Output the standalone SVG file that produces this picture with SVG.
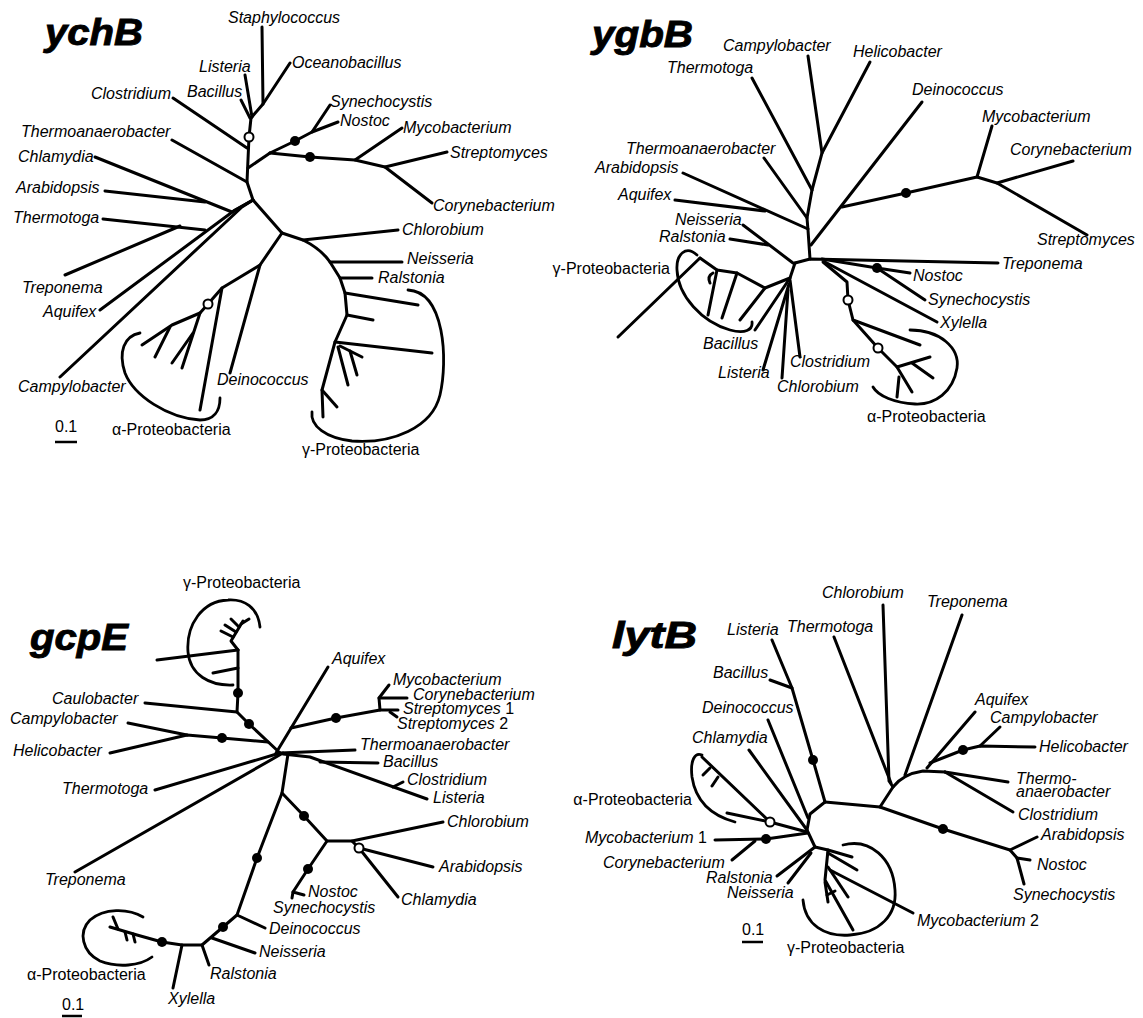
<svg xmlns="http://www.w3.org/2000/svg" width="1143" height="1018" viewBox="0 0 1143 1018">
<style>
.br{fill:none;stroke:#000;stroke-width:3;stroke-linecap:round;stroke-linejoin:round}
.bk{fill:none;stroke:#000;stroke-width:2.8;stroke-linecap:round}
.sc{fill:none;stroke:#000;stroke-width:2.5}
.f{fill:#000}
.o{fill:#fff;stroke:#000;stroke-width:2}
text{font-family:"Liberation Sans",Arial,Helvetica,sans-serif;font-size:16px;fill:#000}
.sp{font-style:italic}
.tt{font-weight:bold;font-style:italic;font-size:36px;stroke:#000;stroke-width:0.9}
</style>
<rect width="1143" height="1018" fill="#fff"/>

<!-- ===== ychB ===== -->
<g id="panel-ychB">
<text id="ychB-title" class="tt" x="45" y="45" textLength="98" lengthAdjust="spacingAndGlyphs">ychB</text>
<g id="ychB-connectors" class="br">
<path d="M262 27 L263 104"/>
<path d="M290 63 L263 104 L251 118"/>
<path d="M245 75 L252 117"/>
<path d="M241 100 L250 118"/>
<path d="M251 118 L249 137 L247 182"/>
<path d="M173 98 L247 148"/>
<path d="M248 168 L270 153"/>
<path d="M270 153 L295 141 L312 132 L330 105"/>
<path d="M312 132 L338 122"/>
<path d="M270 153 L310 157 L355 160 L385 167 L432 203"/>
<path d="M355 160 L402 128"/>
<path d="M385 167 L447 152"/>
<path d="M172 140 L247 182 L253 200 L282 233"/>
<path d="M95 157 L232 212 L253 200"/>
<path d="M105 191 L205 202"/>
<path d="M103 219 L205 230"/>
<path d="M65 275 L180 226"/>
<path d="M100 310 L235 210 L253 200"/>
<path d="M60 377 L242 207 L253 200"/>
<path d="M282 233 L303 240 L398 230"/>
<path d="M303 240 Q321 249 330 262 L340 278 L345 293 L347 315 L335 342 L322 390 L323 417"/>
<path d="M330 262 L402 262"/>
<path d="M340 278 L372 278"/>
<path d="M345 293 L418 305"/>
<path d="M347 315 L373 320"/>
<path d="M335 342 L432 353"/>
<path d="M340 346 L362 357"/>
<path d="M350 351 L357 375"/>
<path d="M338 347 L348 385"/>
<path d="M322 390 L337 407"/>
<path d="M282 233 L260 265 L230 373"/>
<path d="M260 265 L222 288 L200 410"/>
<path d="M222 288 L208 304 L200 313 L182 368"/>
<path d="M193 333 L172 363"/>
<path d="M200 313 L172 325 L142 345"/>
<path d="M170 327 L155 357"/>
</g>
<g id="ychB-brackets" class="bk">
<path d="M408 290 C445 292 448 360 440 395 C432 428 392 444 352 441 C326 438 310 426 312 412"/>
<path d="M140 333 C124 336 118 352 125 373 C134 396 168 418 200 420 C214 420 220 411 220 398"/>
</g>
<g id="ychB-support">
<circle class="o" cx="249" cy="137" r="4.5"/>
<circle class="o" cx="208" cy="304" r="4.5"/>
<circle class="f" cx="295" cy="141" r="5"/>
<circle class="f" cx="310" cy="157" r="5"/>
</g>
<g id="ychB-labels" class="sp">
<text x="228" y="23">Staphylococcus</text>
<text x="292" y="68">Oceanobacillus</text>
<text x="199" y="72">Listeria</text>
<text x="187" y="97">Bacillus</text>
<text x="91" y="99">Clostridium</text>
<text x="21" y="137">Thermoanaerobacter</text>
<text x="18" y="162">Chlamydia</text>
<text x="16" y="193">Arabidopsis</text>
<text x="13" y="223">Thermotoga</text>
<text x="22" y="293">Treponema</text>
<text x="43" y="317">Aquifex</text>
<text x="18" y="392">Campylobacter</text>
<text x="217" y="385">Deinococcus</text>
<text x="330" y="107">Synechocystis</text>
<text x="340" y="126">Nostoc</text>
<text x="403" y="133">Mycobacterium</text>
<text x="450" y="158">Streptomyces</text>
<text x="433" y="211">Corynebacterium</text>
<text x="402" y="235">Chlorobium</text>
<text x="407" y="264">Neisseria</text>
<text x="378" y="283">Ralstonia</text>
</g>
<text id="ychB-gamma" x="302" y="455">γ-Proteobacteria</text>
<text id="ychB-alpha" x="112" y="435">α-Proteobacteria</text>
<g id="ychB-scale"><text x="55" y="432">0.1</text><path class="sc" d="M55 442 L77 442"/></g>
</g>

<!-- ===== ygbB ===== -->
<g id="panel-ygbB">
<text id="ygbB-title" class="tt" x="592" y="47" textLength="101" lengthAdjust="spacingAndGlyphs">ygbB</text>
<g id="ygbB-connectors" class="br">
<path d="M870 62 L822 153"/>
<path d="M808 56 L822 153 L812 190 L807 218 L808 230 L810 259"/>
<path d="M752 78 L812 190"/>
<path d="M764 158 L807 218"/>
<path d="M683 173 L808 229"/>
<path d="M675 200 L765 211"/>
<path d="M922 102 L811 245"/>
<path d="M842 207 L906 193 L977 177 L992 126"/>
<path d="M977 177 L997 183 L1073 161"/>
<path d="M997 183 L1087 235"/>
<path d="M795 263 L810 259 L998 263"/>
<path d="M822 259 L877 268 L910 273"/>
<path d="M877 268 L925 300"/>
<path d="M825 262 L937 322"/>
<path d="M823 262 L847 282 L848 300 L853 320 L920 345"/>
<path d="M853 320 L878 348 L897 367 L930 357"/>
<path d="M912 363 L933 378"/>
<path d="M897 367 L912 392"/>
<path d="M899 377 L897 397"/>
<path d="M743 225 L793 263"/>
<path d="M730 239 L768 245"/>
<path d="M795 263 L790 278 L765 288 L737 273 L717 270 L700 258"/>
<path d="M700 258 L618 337"/>
<path d="M737 273 L722 318"/>
<path d="M717 270 L708 315"/>
<path d="M765 288 L740 320"/>
<path d="M713 273 Q707 276 710 283"/>
<path d="M790 278 L755 330"/>
<path d="M789 284 L763 370"/>
<path d="M788 290 L782 378"/>
<path d="M790 280 L800 357"/>
</g>
<g id="ygbB-brackets" class="bk">
<path d="M697 255 C686 245 676 254 677 270 C678 296 702 322 730 330 C745 334 753 330 752 322"/>
<path d="M910 330 C940 330 960 348 957 368 C953 392 935 405 915 404 C895 403 878 396 873 387"/>
</g>
<g id="ygbB-support">
<circle class="f" cx="906" cy="193" r="5"/>
<circle class="f" cx="877" cy="268" r="5"/>
<circle class="o" cx="848" cy="300" r="4.5"/>
<circle class="o" cx="878" cy="348" r="4.5"/>
</g>
<g id="ygbB-labels" class="sp">
<text x="723" y="51">Campylobacter</text>
<text x="667" y="73">Thermotoga</text>
<text x="853" y="57">Helicobacter</text>
<text x="912" y="95">Deinococcus</text>
<text x="982" y="122">Mycobacterium</text>
<text x="1010" y="155">Corynebacterium</text>
<text x="1037" y="245">Streptomyces</text>
<text x="626" y="154">Thermoanaerobacter</text>
<text x="595" y="173">Arabidopsis</text>
<text x="618" y="200">Aquifex</text>
<text x="675" y="225">Neisseria</text>
<text x="659" y="242">Ralstonia</text>
<text x="1002" y="269">Treponema</text>
<text x="913" y="281">Nostoc</text>
<text x="928" y="305">Synechocystis</text>
<text x="940" y="328">Xylella</text>
<text x="703" y="349">Bacillus</text>
<text x="790" y="367">Clostridium</text>
<text x="718" y="378">Listeria</text>
<text x="777" y="392">Chlorobium</text>
</g>
<text id="ygbB-gamma" x="670" y="274" text-anchor="end">γ-Proteobacteria</text>
<text id="ygbB-alpha" x="867" y="422">α-Proteobacteria</text>
</g>

<!-- ===== gcpE ===== -->
<g id="panel-gcpE">
<text id="gcpE-title" class="tt" x="30" y="650" textLength="98" lengthAdjust="spacingAndGlyphs">gcpE</text>
<g id="gcpE-connectors" class="br">
<path d="M238 650 L238 693 L237 712 L249 724 L280 753"/>
<path d="M145 703 L237 712"/>
<path d="M128 723 L187 735"/>
<path d="M110 753 L187 735 L222 738 L268 742"/>
<path d="M238 650 L157 660"/>
<path d="M238 668 L213 673"/>
<path d="M238 650 L231 641 L243 621"/>
<path d="M233 637 L221 631"/>
<path d="M236 632 L225 625"/>
<path d="M239 627 L231 619"/>
<path d="M241 624 L249 619"/>
<path d="M155 790 L280 753"/>
<path d="M75 872 L283 753"/>
<path d="M328 667 L276 753"/>
<path d="M291 728 L336 718 L380 710 L379 698 L389 685"/>
<path d="M379 698 L407 698"/>
<path d="M380 710 L398 710"/>
<path d="M390 712 L397 717"/>
<path d="M280 753 L355 750"/>
<path d="M283 754 L310 757 L427 799"/>
<path d="M320 762 L378 763"/>
<path d="M393 787 L403 782"/>
<path d="M288 754 L282 793 L257 858 L237 915 L223 927 L202 945 L182 945 L162 942 L137 935 L110 927"/>
<path d="M237 915 L265 928"/>
<path d="M212 938 L255 953"/>
<path d="M202 945 L209 965"/>
<path d="M182 945 L173 988"/>
<path d="M125 932 L127 940"/>
<path d="M133 934 L135 942"/>
<path d="M118 929 L113 917"/>
<path d="M282 793 L304 816 L327 841 L352 841 L443 822"/>
<path d="M352 841 L359 848 L433 867"/>
<path d="M359 848 L398 897"/>
<path d="M327 841 L308 869 L293 892 L304 895"/>
<path d="M293 892 L292 898"/>
</g>
<g id="gcpE-brackets" class="bk">
<path d="M260 627 C258 607 244 599 228 600 C202 601 186 625 188 652 C190 675 210 686 233 685"/>
<path d="M143 917 C128 908 104 908 90 920 C78 932 82 952 100 961 C118 968 140 966 152 957"/>
</g>
<g id="gcpE-support">
<circle class="f" cx="238" cy="693" r="5"/>
<circle class="f" cx="249" cy="724" r="5"/>
<circle class="f" cx="222" cy="738" r="5"/>
<circle class="f" cx="336" cy="718" r="5"/>
<circle class="f" cx="257" cy="858" r="5"/>
<circle class="f" cx="223" cy="927" r="5"/>
<circle class="f" cx="162" cy="942" r="5"/>
<circle class="f" cx="304" cy="816" r="5"/>
<circle class="f" cx="308" cy="869" r="5"/>
<circle class="o" cx="359" cy="848" r="4.5"/>
</g>
<g id="gcpE-labels" class="sp">
<text x="52" y="704">Caulobacter</text>
<text x="10" y="724">Campylobacter</text>
<text x="13" y="756">Helicobacter</text>
<text x="62" y="794">Thermotoga</text>
<text x="45" y="885">Treponema</text>
<text x="332" y="664">Aquifex</text>
<text x="393" y="685">Mycobacterium</text>
<text x="413" y="700">Corynebacterium</text>
<text x="403" y="714">Streptomyces<tspan font-style="normal"> 1</tspan></text>
<text x="397" y="729">Streptomyces<tspan font-style="normal"> 2</tspan></text>
<text x="360" y="750">Thermoanaerobacter</text>
<text x="383" y="767">Bacillus</text>
<text x="407" y="785">Clostridium</text>
<text x="433" y="803">Listeria</text>
<text x="447" y="827">Chlorobium</text>
<text x="439" y="872">Arabidopsis</text>
<text x="401" y="905">Chlamydia</text>
<text x="308" y="897">Nostoc</text>
<text x="273" y="913">Synechocystis</text>
<text x="269" y="934">Deinococcus</text>
<text x="259" y="957">Neisseria</text>
<text x="210" y="979">Ralstonia</text>
<text x="168" y="1004">Xylella</text>
</g>
<text id="gcpE-gamma" x="183" y="588">γ-Proteobacteria</text>
<text id="gcpE-alpha" x="27" y="980">α-Proteobacteria</text>
<g id="gcpE-scale"><text x="62" y="1010">0.1</text><path class="sc" d="M62 1016 L82 1016"/></g>
</g>

<!-- ===== lytB ===== -->
<g id="panel-lytB">
<text id="lytB-title" class="tt" x="612" y="648" textLength="85" lengthAdjust="spacingAndGlyphs">lytB</text>
<g id="lytB-connectors" class="br">
<path d="M772 640 L792 688 L813 760 L825 802"/>
<path d="M770 680 L792 688"/>
<path d="M768 720 L808 818"/>
<path d="M749 750 L807 830"/>
<path d="M825 802 L810 814 L807 830 L815 847"/>
<path d="M825 802 L880 807 L893 787 Q903 774 923 771 L945 772"/>
<path d="M883 605 L889 781 L893 787"/>
<path d="M834 637 L891 783"/>
<path d="M962 615 L905 775"/>
<path d="M975 712 L927 768"/>
<path d="M930 763 L963 750 L980 746 L1035 747"/>
<path d="M980 746 L1000 727"/>
<path d="M945 772 L1008 782"/>
<path d="M945 772 L1013 812"/>
<path d="M880 807 L943 829 L1010 850 L1037 837"/>
<path d="M1010 850 L1017 858 L1024 884"/>
<path d="M1017 858 L1030 860"/>
<path d="M807 832 L770 822 L727 813"/>
<path d="M770 822 L702 757"/>
<path d="M710 768 L703 775"/>
<path d="M718 777 L712 786"/>
<path d="M715 840 L766 839 L808 833"/>
<path d="M732 860 L755 841"/>
<path d="M777 876 L815 847"/>
<path d="M788 883 L811 853"/>
<path d="M815 847 L828 850 L852 857"/>
<path d="M828 853 L857 870"/>
<path d="M828 850 L825 880 L853 930"/>
<path d="M828 867 L848 897"/>
<path d="M830 870 L913 913"/>
<path d="M825 882 L828 902"/>
<path d="M827 895 L835 891"/>
</g>
<g id="lytB-brackets" class="bk">
<path d="M702 755 C695 752 690 760 692 777 C695 797 706 814 735 822"/>
<path d="M843 845 C870 838 893 858 895 890 C897 915 880 933 850 935 C825 937 805 925 803 900"/>
</g>
<g id="lytB-support">
<circle class="f" cx="813" cy="760" r="5"/>
<circle class="f" cx="963" cy="750" r="5"/>
<circle class="f" cx="943" cy="829" r="5"/>
<circle class="f" cx="766" cy="839" r="5"/>
<circle class="o" cx="770" cy="822" r="4.5"/>
</g>
<g id="lytB-labels" class="sp">
<text x="822" y="598">Chlorobium</text>
<text x="927" y="607">Treponema</text>
<text x="727" y="635">Listeria</text>
<text x="787" y="632">Thermotoga</text>
<text x="713" y="678">Bacillus</text>
<text x="702" y="713">Deinococcus</text>
<text x="692" y="743">Chlamydia</text>
<text x="975" y="705">Aquifex</text>
<text x="990" y="723">Campylobacter</text>
<text x="1039" y="752">Helicobacter</text>
<text x="1016" y="784">Thermo-</text>
<text x="1016" y="797">anaerobacter</text>
<text x="1018" y="820">Clostridium</text>
<text x="1041" y="840">Arabidopsis</text>
<text x="1037" y="870">Nostoc</text>
<text x="1013" y="900">Synechocystis</text>
<text x="917" y="926">Mycobacterium<tspan font-style="normal"> 2</tspan></text>
<text x="585" y="843">Mycobacterium<tspan font-style="normal"> 1</tspan></text>
<text x="603" y="868">Corynebacterium</text>
<text x="706" y="883">Ralstonia</text>
<text x="727" y="898">Neisseria</text>
</g>
<text id="lytB-alpha" x="692" y="805" text-anchor="end">α-Proteobacteria</text>
<text id="lytB-gamma" x="787" y="953">γ-Proteobacteria</text>
<g id="lytB-scale"><text x="742" y="935">0.1</text><path class="sc" d="M742 942 L763 942"/></g>
</g>
</svg>
